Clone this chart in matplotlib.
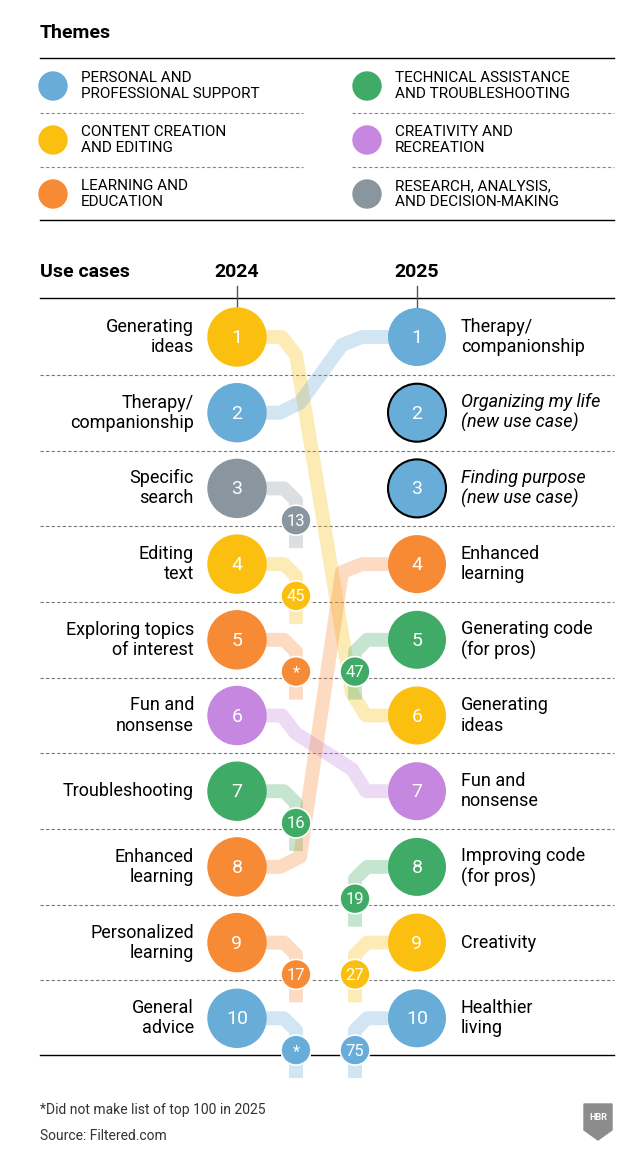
import matplotlib.pyplot as plt
from matplotlib.patches import Circle, Polygon

## Data

theme_names = ["PERSONAL AND\nPROFESSIONAL SUPPORT", "CONTENT CREATION\nAND EDITING", "LEARNING AND\nEDUCATION",
               "TECHNICAL ASSISTANCE\nAND TROUBLESHOOTING", "CREATIVITY AND\nRECREATION", "RESEARCH, ANALYSIS,\nAND DECISION-MAKING"]
theme_keys = ["personal", "content", "learning", "technical", "creativity", "research"]
colors = {"personal": "#68acd8", "content": "#fbbf10", "learning": "#f68a35",
          "technical": "#3fab66", "creativity": "#c587df", "research": "#8a969f"}

labels_2024 = ["Generating\nideas", "Therapy/\ncompanionship", "Specific\nsearch", "Editing\ntext",
               "Exploring topics\nof interest", "Fun and\nnonsense", "Troubleshooting", "Enhanced\nlearning",
               "Personalized\nlearning", "General\nadvice"]
themes_2024 = ["content", "personal", "research", "content", "learning", "creativity", "technical",
               "learning", "learning", "personal"]
# rank in 2025 (None = not in top 100 -> "*"); ranks > 10 shown as badge
rank_2025_of_2024 = [6, 1, 13, 45, None, 7, 16, 4, 17, None]

labels_2025 = ["Therapy/\ncompanionship", "Organizing my life\n(new use case)", "Finding purpose\n(new use case)",
               "Enhanced\nlearning", "Generating code\n(for pros)", "Generating\nideas", "Fun and\nnonsense",
               "Improving code\n(for pros)", "Creativity", "Healthier\nliving"]
themes_2025 = ["personal", "personal", "personal", "learning", "technical", "content", "creativity",
               "technical", "content", "personal"]
new_2025 = [False, True, True, False, False, False, False, False, False, False]
# rank in 2024 (None = new); ranks > 10 shown as badge
rank_2024_of_2025 = [2, None, None, 8, 47, 1, 6, 19, 27, 75]

## Layout (pixel coordinates)

W, H = 634, 1170
fig = plt.figure(figsize=(W / 100, H / 100), dpi=100)
ax = fig.add_axes([0, 0, 1, 1])
ax.set_xlim(0, W)
ax.set_ylim(H, 0)
ax.axis("off")
plt.rcParams['font.family'] = ['Roboto', 'DejaVu Sans']

x_left, x_right = 237, 417
x_bl, x_br = 296, 355
row0, row_h = 337, 75.7
R, r = 29, 15
ys = [row0 + i * row_h for i in range(10)]


def ribbon(pts, color, z=1):
    xs, yv = zip(*pts)
    ax.plot(xs, yv, color=color, lw=10, alpha=0.3, solid_joinstyle="round",
            solid_capstyle="butt", zorder=z)


def badge(x, y, text, color):
    ax.add_patch(Circle((x, y), r, color=color, ec="white", lw=1.2, zorder=4))
    ax.text(x, y + 1, text, color="white", ha="center", va="center", fontsize=12, zorder=5)


## Legend
ax.text(40, 33, "Themes", fontsize=14, fontweight="bold", va="center")
ax.plot([40, 614], [58, 58], color="black", lw=1)
ax.plot([40, 614], [220, 220], color="black", lw=1)
for i, (name, key) in enumerate(zip(theme_names, theme_keys)):
    col, row = divmod(i, 3)
    cx = 53 if col == 0 else 367
    cy = 86 + row * 54
    ax.add_patch(Circle((cx, cy), 14, color=colors[key]))
    ax.text(cx + 28, cy, name, fontsize=11, va="center", linespacing=1.15)
    if row < 2:
        x0 = 40 if col == 0 else 352
        x1 = 303 if col == 0 else 614
        ax.plot([x0, x1], [cy + 27, cy + 27], color="#888888", lw=0.8, ls=(0, (3, 2)))

## Header
ax.text(40, 272, "Use cases", fontsize=14, fontweight="bold", va="center")
ax.text(x_left, 272, "2024", fontsize=14, fontweight="bold", va="center", ha="center")
ax.text(x_right, 272, "2025", fontsize=14, fontweight="bold", va="center", ha="center")
ax.plot([40, 614], [298, 298], color="black", lw=1)
for xx in (x_left, x_right):
    ax.plot([xx, xx], [286, 310], color="#555555", lw=1)
for i in range(9):
    yy = (ys[i] + ys[i + 1]) / 2
    ax.plot([40, 614], [yy, yy], color="#777777", lw=0.8, ls=(0, (3, 2)), zorder=0)
ax.plot([40, 614], [1055, 1055], color="black", lw=1)

## Ribbons and badges, 2024 side
for i, rk in enumerate(rank_2025_of_2024):
    y = ys[i]
    c = colors[themes_2024[i]]
    if rk is not None and rk <= 10:
        y2 = ys[rk - 1]
        if y2 > y:
            ribbon([(x_left, y), (282, y), (296, y + 18), (352, y2 - 22), (366, y2), (x_right, y2)], c)
        else:
            ribbon([(x_left, y), (280, y), (300, y - 10), (342, y2 + 8), (362, y2), (x_right, y2)], c)
    else:
        by = y + row_h * 0.42
        ribbon([(x_left, y), (284, y), (x_bl, y + 12), (x_bl, by + 28)], c)
        badge(x_bl, by, "*" if rk is None else str(rk), c)

## Ribbons and badges, 2025 side
for i, rk in enumerate(rank_2024_of_2025):
    if rk is None or rk <= 10:
        continue
    y = ys[i]
    c = colors[themes_2025[i]]
    by = y + row_h * 0.42
    ribbon([(x_right, y), (367, y), (x_br, y + 12), (x_br, by + 28)], c)
    badge(x_br, by, str(rk), c)

## Circles and labels
for i in range(10):
    y = ys[i]
    ax.add_patch(Circle((x_left, y), R, color=colors[themes_2024[i]], zorder=3))
    ax.text(x_left, y + 1, str(i + 1), color="white", ha="center", va="center", fontsize=14, zorder=5)
    ax.text(194, y, labels_2024[i], ha="right", va="center", fontsize=13, linespacing=1.15)

    ax.add_patch(Circle((x_right, y), R, fc=colors[themes_2025[i]],
                        ec="black" if new_2025[i] else "none", lw=1.5, zorder=3))
    ax.text(x_right, y + 1, str(i + 1), color="white", ha="center", va="center", fontsize=14, zorder=5)
    ax.text(461, y, labels_2025[i], ha="left", va="center", fontsize=13, linespacing=1.15,
            style="italic" if new_2025[i] else "normal")

## Footer
ax.text(40, 1110, "*Did not make list of top 100 in 2025", fontsize=10, color="#333333", va="center")
ax.text(40, 1136, "Source: Filtered.com", fontsize=10, color="#333333", va="center")
ax.add_patch(Polygon([(584, 1104), (612, 1104), (612, 1130), (598, 1140), (584, 1130)],
                     closed=True, color="#8c8c8c"))
ax.text(598, 1117, "HBR", color="white", fontsize=6.5, fontweight="bold", ha="center", va="center")

fig.savefig("out.png", dpi=100)
